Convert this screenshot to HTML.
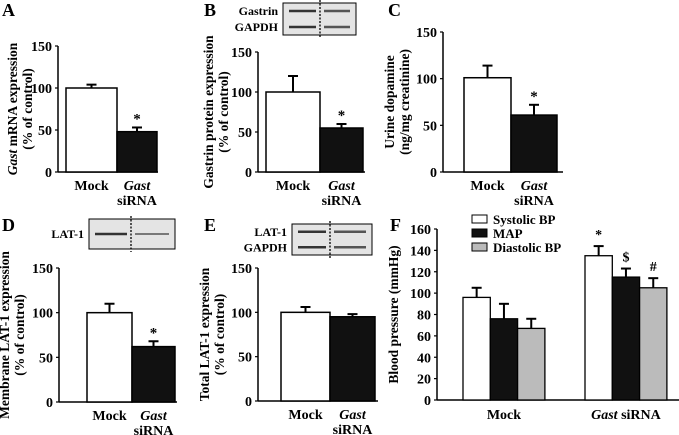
<!DOCTYPE html>
<html><head><meta charset="utf-8"><style>
body{margin:0;background:#fff}
svg{display:block}
text{font-family:"Liberation Serif","DejaVu Serif",serif;font-weight:bold}
</style></head><body>
<svg id="fig" width="679" height="435" viewBox="0 0 679 435" xmlns="http://www.w3.org/2000/svg" font-family="Liberation Serif, serif" font-weight="bold"></svg>
<script>
const catsAE = ["Mock","Gast siRNA"];
const valsA = [100,48], errA = [4,5];
const valsB = [100,55], errB = [20,5];
const valsC = [101,61], errC = [13,11];
const valsD = [100,62], errD = [10,6];
const valsE = [100,95], errE = [6,3];
const ticksAE = [0,50,100,150];
const seriesF = ["Systolic BP","MAP","Diastolic BP"];
const groupsF = ["Mock","Gast siRNA"];
const valsFSys = [96,135], errFSys=[9,9];
const valsFMap = [76,115], errFMap=[14,8];
const valsFDia = [67,105], errFDia=[9,9];
const ticksF = [0,20,40,60,80,100,120,140,160];
const marksF = [["","*"],["","$"],["","#"]];

const svg=document.getElementById('fig');
const NS="http://www.w3.org/2000/svg";
function mk(tag,attrs,parent){const e=document.createElementNS(NS,tag);for(const k in attrs)e.setAttribute(k,attrs[k]);(parent||svg).appendChild(e);return e;}
function txt(s,x,y,size,anchor,parent,italic){const t=mk('text',{x:x,y:y,'font-size':size,'text-anchor':anchor||'middle','font-family':'Liberation Serif, serif','font-weight':'bold'},parent);if(italic)t.setAttribute('font-style','italic');t.textContent=s;return t;}

function panel(p){
  const g=mk('g',{});
  
  
  const y=v=>p.y0-(v/p.max)*(p.y0-p.ytop);
  txt(p.id.toUpperCase(),p.lx,p.ly,18,'start',g);
  mk('line',{x1:p.ax,y1:p.y0,x2:p.ax,y2:p.ytop,stroke:'#000','stroke-width':1.5},g);
  mk('line',{x1:p.ax,y1:p.y0,x2:p.axEnd,y2:p.y0,stroke:'#000','stroke-width':1.5},g);
  p.ticks.forEach(t=>{mk('line',{x1:p.ax-3,y1:y(t),x2:p.ax,y2:y(t),stroke:'#000','stroke-width':1.2},g);
    const tl=txt(String(t),p.ax-6,y(t)+5,14,'end',g);
    });
  const yt=mk('g',{transform:`translate(${p.tx},${(p.y0+p.ytop)/2}) rotate(-90)`},g);
  
  p.title.forEach((line,i)=>{const t=txt('',0,i*15,13.5,'middle',yt);
    line.forEach(seg=>{const s=mk('tspan',{},t);if(seg[1])s.setAttribute('font-style','italic');s.textContent=seg[0];});});
  return {g,y};
}
function simple(p){
  const {g,y}=panel(p);
  p.vals.forEach((v,i)=>{
    const x0=p.bars[i][0],x1=p.bars[i][1],cx=(x0+x1)/2;
    const top=y(v+p.err[i]);
    mk('line',{x1:cx,y1:y(v),x2:cx,y2:top,stroke:'#000','stroke-width':2},g);
    mk('line',{x1:cx-5,y1:top,x2:cx+5,y2:top,stroke:'#000','stroke-width':2},g);
    const b=mk('rect',{x:x0,y:y(v),width:x1-x0,height:p.y0-y(v),fill:i?'#111':'#fff',stroke:'#000','stroke-width':1.5},g);
    
    
    if(i===1&&p.star){const s=txt('*',cx,top-4,15,'middle',g);s.setAttribute('font-weight','normal');}
    if(i===0)txt('Mock',cx,p.y0+18,14,'middle',g);
    else{txt('Gast',cx,p.y0+18,14,'middle',g,true);txt('siRNA',cx,p.y0+33,14,'middle',g);}
  });
  if(p.blot){const bl=p.blot;
    const bg=mk('g',{},g);
    mk('rect',{x:bl.x,y:bl.y,width:bl.w,height:bl.h,fill:'#e4e4e4',stroke:'#000','stroke-width':1},bg);
    bl.rows.forEach((r,i)=>{const ry=bl.y+bl.h*(i+0.5)/bl.rows.length;
      txt(r,bl.x-5,ry+4,12,'end',bg);
      mk('line',{x1:bl.x+6,y1:ry,x2:bl.dash-4,y2:ry,stroke:'#333','stroke-width':2.5},bg);
      mk('line',{x1:bl.dash+4,y1:ry,x2:bl.x+bl.w-6,y2:ry,stroke:'#555','stroke-width':bl.thin&&bl.thin[i]?1.5:2.5},bg);});
    mk('line',{x1:bl.dash,y1:bl.y-3,x2:bl.dash,y2:bl.y+bl.h+3,stroke:'#000','stroke-width':1.3,'stroke-dasharray':'2,1.5'},bg);
  }
}
simple({id:'a',lx:2,ly:16,ax:58,axEnd:158,y0:172,ytop:46,max:150,ticks:ticksAE,tx:17,star:1,
  title:[[["Gast",1],[" mRNA expression",0]],[["(% of control)",0]]],vals:valsA,err:errA,bars:[[66,117],[117,157]]});
simple({id:'b',lx:204,ly:16,ax:258,axEnd:365,y0:172,ytop:52,max:150,ticks:ticksAE,tx:213,star:1,
  title:[[["Gastrin protein expression",0]],[["(% of control)",0]]],vals:valsB,err:errB,bars:[[266,320],[320,363]],
  blot:{x:283,y:3,w:73,h:32,dash:320,rows:["Gastrin","GAPDH"]}});
simple({id:'c',lx:388,ly:16,ax:443,axEnd:563,y0:172,ytop:32,max:150,ticks:ticksAE,tx:394,star:1,
  title:[[["Urine dopamine",0]],[["(ng/mg creatinine)",0]]],vals:valsC,err:errC,bars:[[464,511],[511,557]]});
simple({id:'d',lx:2,ly:231,ax:59,axEnd:177,y0:402,ytop:268,max:150,ticks:ticksAE,tx:9,star:1,
  title:[[["Membrane LAT-1 expression",0]],[["(% of control)",0]]],vals:valsD,err:errD,bars:[[87,132],[132,175]],
  blot:{x:89,y:219,w:86,h:30,dash:131,rows:["LAT-1"],thin:[1]}});
simple({id:'e',lx:204,ly:231,ax:258,axEnd:378,y0:401,ytop:268,max:150,ticks:ticksAE,tx:209,star:0,
  title:[[["Total LAT-1 expression",0]],[["(% of control)",0]]],vals:valsE,err:errE,bars:[[281,330],[330,375]],
  blot:{x:292,y:224,w:80,h:31,dash:330,rows:["LAT-1","GAPDH"]}});

(function(){
  const p={id:'f',lx:390,ly:231,ax:437,axEnd:679,y0:400,ytop:229,max:160,ticks:ticksF,tx:398,
    title:[[["Blood pressure (mmHg)",0]]]};
  const {g,y}=panel(p);
  const vals=[valsFSys,valsFMap,valsFDia],errs=[errFSys,errFMap,errFDia];
  const fills=['#fff','#111','#bbb'];
  const gStart=[463,585],bw=27.3;
  groupsF.forEach((gr,gi)=>{
    seriesF.forEach((s,si)=>{
      const v=vals[si][gi],x0=gStart[gi]+si*bw,cx=x0+bw/2,top=y(v+errs[si][gi]);
      mk('line',{x1:cx,y1:y(v),x2:cx,y2:top,stroke:'#000','stroke-width':2},g);
      mk('line',{x1:cx-5,y1:top,x2:cx+5,y2:top,stroke:'#000','stroke-width':2},g);
      const b=mk('rect',{x:x0,y:y(v),width:bw,height:p.y0-y(v),fill:fills[si],stroke:'#000','stroke-width':1.3},g);
      
      
      const m=marksF[si][gi];
      if(m){const t=txt(m,cx,top-7,14,'middle',g);t.setAttribute('font-weight','normal');}
    });
    const cx=gStart[gi]+1.5*bw;
    const t=txt('',cx,p.y0+19,14,'middle',g);
    if(gi===0)t.textContent='Mock';
    else{const a=mk('tspan',{'font-style':'italic'},t);a.textContent='Gast';const b2=mk('tspan',{},t);b2.textContent=' siRNA';}
  });
  const lg=mk('g',{},g);
  
  
  seriesF.forEach((s,i)=>{const ly=219+i*14;
    mk('rect',{x:472,y:ly-4,width:15,height:8,fill:fills[i],stroke:'#000','stroke-width':1},lg);
    txt(s,493,ly+5,13,'start',lg);});
})();
</script>
</body></html>
